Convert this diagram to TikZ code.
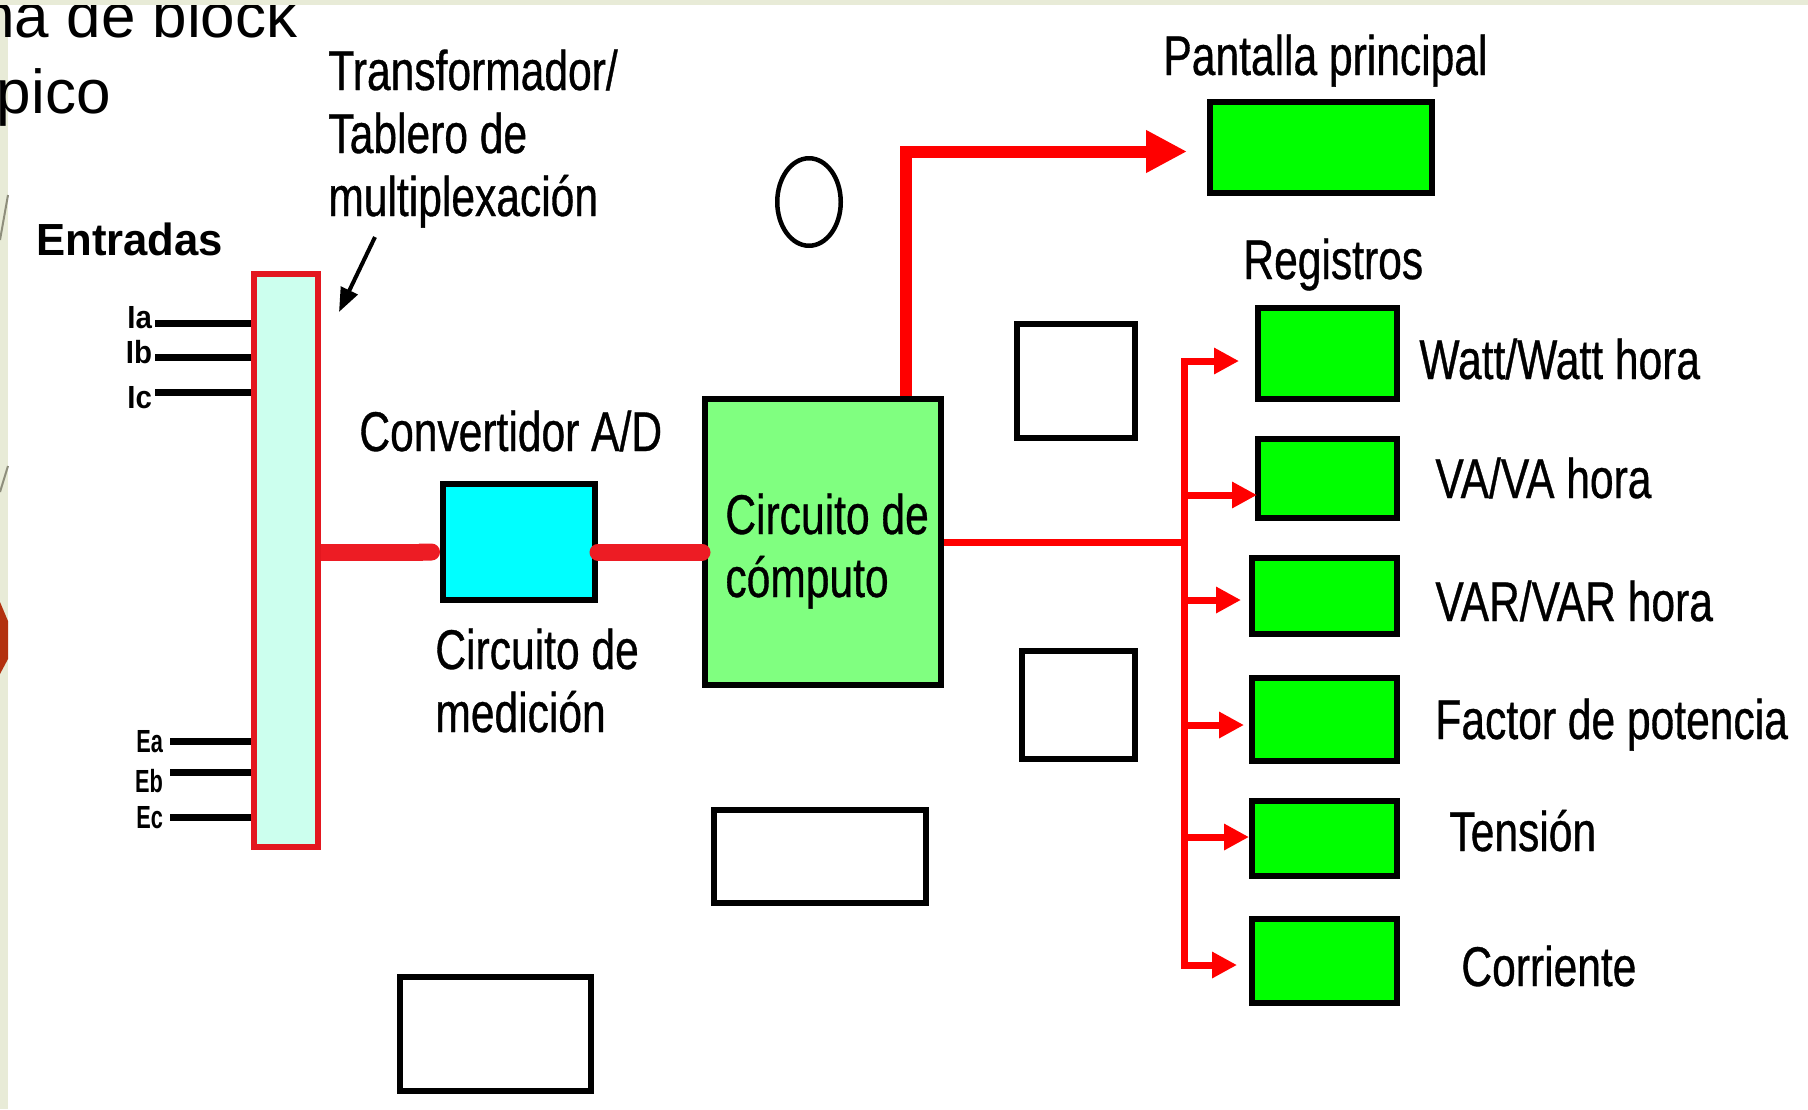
\documentclass[tikz,border=0pt]{standalone}
\usepackage{fontspec}
\setmainfont{Liberation Sans}
\newfontfamily\narrowfont[FakeStretch=0.76,FakeBold=0.6]{Liberation Sans}
\newfontfamily\entfont[FakeStretch=0.97]{Liberation Sans}
\newfontfamily\iafont[FakeStretch=0.92]{Liberation Sans}
\newfontfamily\eafont[FakeStretch=0.68]{Liberation Sans}
\usetikzlibrary{arrows.meta,shapes.geometric}
\definecolor{slidebeige}{HTML}{E8EBD7}
\definecolor{decogray}{HTML}{8E8E7C}
\definecolor{decored}{HTML}{B3310F}
\definecolor{panelred}{HTML}{E3171F}
\definecolor{panelfill}{HTML}{CCFFEE}
\definecolor{barred}{HTML}{ED1C24}
\definecolor{adcyan}{HTML}{00FFFF}
\definecolor{compgreen}{HTML}{80FF80}
\definecolor{reggreen}{HTML}{00FF00}
\tikzset{
  lbl/.style={anchor=base west, inner sep=0pt, align=left, font=\narrowfont\fontsize{28}{31.5}\selectfont},
  blockbox/.style={draw=black, line width=3pt, inner sep=0pt},
  regbox/.style={blockbox, fill=reggreen},
  emptybox/.style={blockbox, fill=white},
  bar/.style={barred, line width=8.5pt},
  tap/.style={red, line width=3.5pt},
  lead/.style={black, line width=3.5pt},
  tag/.style={anchor=base east, inner sep=0pt, outer sep=1.5pt, font=\iafont\bfseries\fontsize{16}{18}\selectfont},
  etag/.style={tag, outer sep=3.5pt, font=\eafont\bfseries\fontsize{16}{18}\selectfont},
}
\begin{document}
\begin{tikzpicture}[x=0.5pt,y=-0.5pt]
    \useasboundingbox (0,0) rectangle (1808,1109);
    \clip (0,0) rectangle (1808,1109);
    \fill[white] (0,0) rectangle (1808,1109);
    \fill[slidebeige] (0,0) rectangle (8,1109);
    \draw[decogray, line width=1pt] (8,195) -- (0,240);
    \draw[decogray, line width=1pt] (8,466) -- (0,492);
    \fill[decored] (0,602) -- (8,621) -- (8,659) -- (0,674) -- cycle;
    % title of the slide, cut by the page edge
    \node[anchor=base east, inner sep=0pt, font=\fontsize{31}{36}\selectfont] (title1) at (298,37) {Diagrama de block};
    \node[anchor=base east, inner sep=0pt, font=\fontsize{31}{36}\selectfont] (title2) at (111,113) {típico};
    \fill[slidebeige] (0,0) rectangle (1808,5);

    % inputs and multiplexer
    \node[lbl, font=\entfont\bfseries\fontsize{22.5}{26}\selectfont] (entradas) at (36,255) {Entradas};
    \node[draw=panelred, fill=panelfill, line width=3pt, inner sep=0pt, minimum width=32pt, minimum height=286.5pt] (panel) at (286,560.5) {};
    \node[tag] (ia) at (155,328) {Ia};
    \node[tag] (ib) at (155,363) {Ib};
    \node[tag] (ic) at (155,408) {Ic};
    \node[etag] (ea) at (170,752) {Ea};
    \node[etag] (eb) at (170,792) {Eb};
    \node[etag] (ec) at (170,828) {Ec};
    \foreach \t/\dy in {ia/-3.25, ib/-2.75, ic/2.25, ea/0, eb/4, ec/0}
        \draw[lead] ([yshift=\dy pt]\t.east) -- ([yshift=\dy pt]\t.east -| panel.west);
    \node[lbl] (trafo) at (328,216) {Transformador/\\Tablero de\\multiplexación};
    \coordinate (trafotip) at (339,312);
    \draw[black, line width=2pt, -{Triangle[length=12pt,width=9pt]}] ([shift={(23.5pt,-4.5pt)}]trafo.south west) -- (trafotip);

    % measuring and computing
    \node[lbl] (convlabel) at (359,451) {Convertidor A/D};
    \node[blockbox, fill=adcyan, minimum width=76pt, minimum height=58pt] (ad) at (519,542) {};
    \node[lbl] (medlabel) at (435,732) {Circuito de\\medición};
    \node[blockbox, fill=compgreen, minimum width=118pt, minimum height=143pt] (comp) at (823,542) {};
    \node[lbl] (comptext) at (725,597) {Circuito de\\cómputo};
    \draw[bar, -{Round Cap}] ([yshift=-5pt]panel.east |- ad.west) -- ([yshift=-5pt]ad.west);
    \draw[bar, line cap=round] ([yshift=-5pt]ad.east) -- ([yshift=-5pt]comp.west);

    % blank boxes
    \node[draw=black, line width=2.25pt, ellipse, inner sep=0pt, minimum width=31.75pt, minimum height=43.75pt] (blankO) at (809,202) {};
    \node[emptybox, minimum width=59pt, minimum height=57pt] (blankA) at (1076,381) {};
    \node[emptybox, minimum width=56.5pt, minimum height=54pt] (blankB) at (1078.5,705) {};
    \node[emptybox, minimum width=106pt, minimum height=46.5pt] (blankC) at (820,856.5) {};
    \node[emptybox, minimum width=95.5pt, minimum height=57pt] (blankD) at (495.5,1034) {};

    % display
    \node[lbl] (pantlabel) at (1163,75) {Pantalla principal};
    \node[regbox, minimum width=111pt, minimum height=45.5pt] (pantalla) at (1321,147.5) {};
    \draw[tap, line width=6pt, -{Triangle[length=20.5pt,width=20pt]}, shorten >=10pt] ([xshift=41.5pt]comp.north) |- ([yshift=-2pt]pantalla.west);

    % registers
    \node[lbl] (reglabel) at (1243,279) {Registros};
    \node[regbox, minimum width=69.5pt, minimum height=45.5pt] (watt) at (1327.5,353.5) {};
    \node[regbox, minimum width=69.5pt, minimum height=39.5pt] (va) at (1327.5,478.5) {};
    \node[regbox, minimum width=72.5pt, minimum height=38pt] (var) at (1324.5,596) {};
    \node[regbox, minimum width=72.5pt, minimum height=41.5pt] (fp) at (1324.5,719.5) {};
    \node[regbox, minimum width=72.5pt, minimum height=37.5pt] (tension) at (1324.5,838.5) {};
    \node[regbox, minimum width=72.5pt, minimum height=42pt] (corriente) at (1324.5,961) {};
    \node[lbl] (wattlabel) at (1419,379) {Watt/Watt hora};
    \node[lbl] (valabel) at (1435,498) {VA/VA hora};
    \node[lbl] (varlabel) at (1435,621) {VAR/VAR hora};
    \node[lbl] (fplabel) at (1435,739) {Factor de potencia};
    \node[lbl] (tensionlabel) at (1449,851) {Tensión};
    \node[lbl] (corrientelabel) at (1461,986) {Corriente};

    \coordinate (bus) at (1184,539);
    \draw[tap] (comp.east) -- (comp.east -| bus);
    \draw[tap, line cap=rect] ([yshift=-3.75pt]watt.west -| bus) -- ([yshift=-2pt]corriente.west -| bus);
    \foreach \reg/\dy/\gap in {watt/-3.75/8, va/-8.25/-1, var/-2/4, fp/-2.75/2.5, tension/0.75/0, corriente/-2/6}
        \draw[tap, -{Triangle[length=12.5pt,width=12.5pt]}, shorten >=\gap pt] ([yshift=\dy pt]\reg.west -| bus) -- ([yshift=\dy pt]\reg.west);
\end{tikzpicture}
\end{document}
